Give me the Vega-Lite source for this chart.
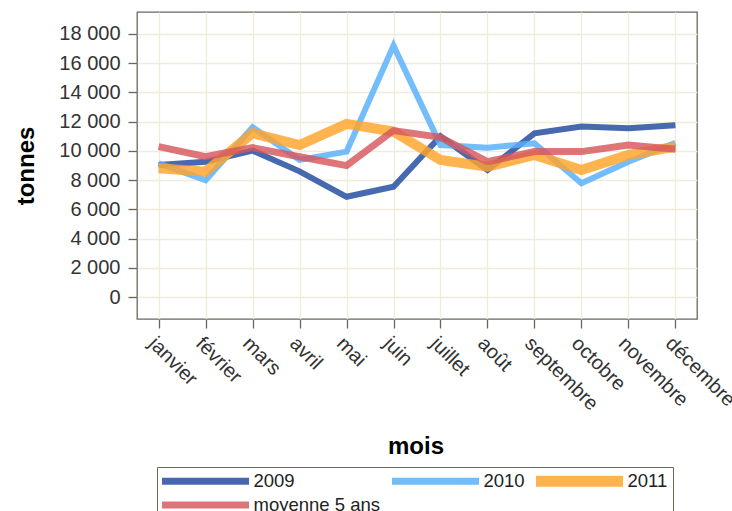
{
  "$schema": "https://vega.github.io/schema/vega-lite/v6.json",
  "width": 560,
  "height": 307,
  "autosize": {"type": "none"},
  "padding": {"left": 137, "top": 12, "right": 35, "bottom": 192},
  "background": "white",
  "config": {
    "font": "Liberation Sans",
    "view": {"stroke": "#6b675b", "strokeWidth": 1.3},
    "axis": {
      "domain": false,
      "grid": true,
      "gridColor": "#efecda",
      "gridWidth": 1.3,
      "tickColor": "#6b675b",
      "tickWidth": 1.3,
      "tickSize": 9,
      "labelColor": "#333333",
      "labelFont": "Liberation Sans",
      "titleFont": "Liberation Sans",
      "titleFontWeight": "bold",
      "titleFontSize": 24,
      "titleColor": "#000000"
    }
  },
  "data": {
    "values": [
      {"mois": "janvier", "m": 1, "serie": "2009", "tonnes": 9035},
      {"mois": "février", "m": 2, "serie": "2009", "tonnes": 9260},
      {"mois": "mars", "m": 3, "serie": "2009", "tonnes": 10020},
      {"mois": "avril", "m": 4, "serie": "2009", "tonnes": 8600},
      {"mois": "mai", "m": 5, "serie": "2009", "tonnes": 6860},
      {"mois": "juin", "m": 6, "serie": "2009", "tonnes": 7550},
      {"mois": "juillet", "m": 7, "serie": "2009", "tonnes": 11000},
      {"mois": "août", "m": 8, "serie": "2009", "tonnes": 8690},
      {"mois": "septembre", "m": 9, "serie": "2009", "tonnes": 11200},
      {"mois": "octobre", "m": 10, "serie": "2009", "tonnes": 11660},
      {"mois": "novembre", "m": 11, "serie": "2009", "tonnes": 11550},
      {"mois": "décembre", "m": 12, "serie": "2009", "tonnes": 11760},
      {"mois": "janvier", "m": 1, "serie": "2010", "tonnes": 9150},
      {"mois": "février", "m": 2, "serie": "2010", "tonnes": 8000},
      {"mois": "mars", "m": 3, "serie": "2010", "tonnes": 11620},
      {"mois": "avril", "m": 4, "serie": "2010", "tonnes": 9380},
      {"mois": "mai", "m": 5, "serie": "2010", "tonnes": 9950},
      {"mois": "juin", "m": 6, "serie": "2010", "tonnes": 17200},
      {"mois": "juillet", "m": 7, "serie": "2010", "tonnes": 10400},
      {"mois": "août", "m": 8, "serie": "2010", "tonnes": 10220},
      {"mois": "septembre", "m": 9, "serie": "2010", "tonnes": 10520},
      {"mois": "octobre", "m": 10, "serie": "2010", "tonnes": 7780},
      {"mois": "novembre", "m": 11, "serie": "2010", "tonnes": 9260},
      {"mois": "décembre", "m": 12, "serie": "2010", "tonnes": 10560},
      {"mois": "janvier", "m": 1, "serie": "2011", "tonnes": 8810},
      {"mois": "février", "m": 2, "serie": "2011", "tonnes": 8580},
      {"mois": "mars", "m": 3, "serie": "2011", "tonnes": 11210},
      {"mois": "avril", "m": 4, "serie": "2011", "tonnes": 10400},
      {"mois": "mai", "m": 5, "serie": "2011", "tonnes": 11850},
      {"mois": "juin", "m": 6, "serie": "2011", "tonnes": 11320},
      {"mois": "juillet", "m": 7, "serie": "2011", "tonnes": 9380},
      {"mois": "août", "m": 8, "serie": "2011", "tonnes": 8920},
      {"mois": "septembre", "m": 9, "serie": "2011", "tonnes": 9720},
      {"mois": "octobre", "m": 10, "serie": "2011", "tonnes": 8690},
      {"mois": "novembre", "m": 11, "serie": "2011", "tonnes": 9720},
      {"mois": "décembre", "m": 12, "serie": "2011", "tonnes": 10290},
      {"mois": "janvier", "m": 1, "serie": "moyenne 5 ans", "tonnes": 10290},
      {"mois": "février", "m": 2, "serie": "moyenne 5 ans", "tonnes": 9600},
      {"mois": "mars", "m": 3, "serie": "moyenne 5 ans", "tonnes": 10220},
      {"mois": "avril", "m": 4, "serie": "moyenne 5 ans", "tonnes": 9600},
      {"mois": "mai", "m": 5, "serie": "moyenne 5 ans", "tonnes": 8990},
      {"mois": "juin", "m": 6, "serie": "moyenne 5 ans", "tonnes": 11390},
      {"mois": "juillet", "m": 7, "serie": "moyenne 5 ans", "tonnes": 10930},
      {"mois": "août", "m": 8, "serie": "moyenne 5 ans", "tonnes": 9260},
      {"mois": "septembre", "m": 9, "serie": "moyenne 5 ans", "tonnes": 9950},
      {"mois": "octobre", "m": 10, "serie": "moyenne 5 ans", "tonnes": 9950},
      {"mois": "novembre", "m": 11, "serie": "moyenne 5 ans", "tonnes": 10400},
      {"mois": "décembre", "m": 12, "serie": "moyenne 5 ans", "tonnes": 10110}
    ]
  },
  "mark": {"type": "line", "strokeOpacity": 0.82, "strokeCap": "butt", "strokeJoin": "miter", "strokeMiterLimit": 20},
  "encoding": {
    "x": {
      "field": "mois",
      "type": "nominal",
      "sort": ["janvier", "février", "mars", "avril", "mai", "juin", "juillet", "août", "septembre", "octobre", "novembre", "décembre"],
      "scale": {"type": "point", "padding": 0.46},
      "axis": {
        "title": "mois",
        "grid": true,
        "labelAngle": 45,
        "labelAlign": "left",
        "labelBaseline": "top",
        "labelFontSize": 20,
        "labelPadding": 5,
        "labelOverlap": false,
        "titleX": 278.5,
        "titleY": 134,
        "titleBaseline": "alphabetic",
        "titleAlign": "center"
      }
    },
    "y": {
      "field": "tonnes",
      "type": "quantitative",
      "scale": {"domain": [-1500, 19500], "nice": false, "zero": false},
      "axis": {
        "title": "tonnes",
        "values": [0, 2000, 4000, 6000, 8000, 10000, 12000, 14000, 16000, 18000],
        "labelExpr": "replace(format(datum.value, ','), ',', ' ')",
        "labelFontSize": 20,
        "labelPadding": 8,
        "titleAngle": -90,
        "titleX": -104,
        "titleY": 153.5,
        "titleBaseline": "alphabetic",
        "titleAlign": "center"
      }
    },
    "color": {
      "field": "serie",
      "type": "nominal",
      "scale": {
        "domain": ["2009", "2010", "2011", "moyenne 5 ans"],
        "range": ["#1f489f", "#55aefa", "#ffa329", "#d5575c"]
      },
      "legend": {
        "title": null,
        "orient": "none",
        "legendX": 20,
        "legendY": 455,
        "direction": "horizontal",
        "columns": 3,
        "gridAlign": "each",
        "symbolType": "stroke",
        "symbolSize": 7569,
        "symbolStrokeWidth": 7,
        "symbolOpacity": 0.82,
        "clipHeight": 18,
        "rowPadding": 5,
        "columnPadding": 11,
        "labelFontSize": 18.5,
        "labelFont": "Liberation Sans",
        "labelColor": "#222222",
        "labelOffset": 1,
        "symbolOffset": -3.5,
        "labelLimit": 300,
        "strokeColor": "#6b675b",
        "padding": 5,
        "encode": {
          "symbols": {"update": {"strokeWidth": {"signal": "(datum.value == '2011' ? 11 : 7)"}}}
        }
      }
    },
    "strokeWidth": {
      "condition": [
        {"test": "datum.serie == '2011'", "value": 10},
        {"test": "datum.serie == 'moyenne 5 ans'", "value": 7}
      ],
      "value": 6
    },
    "order": {"field": "m"}
  }
}
